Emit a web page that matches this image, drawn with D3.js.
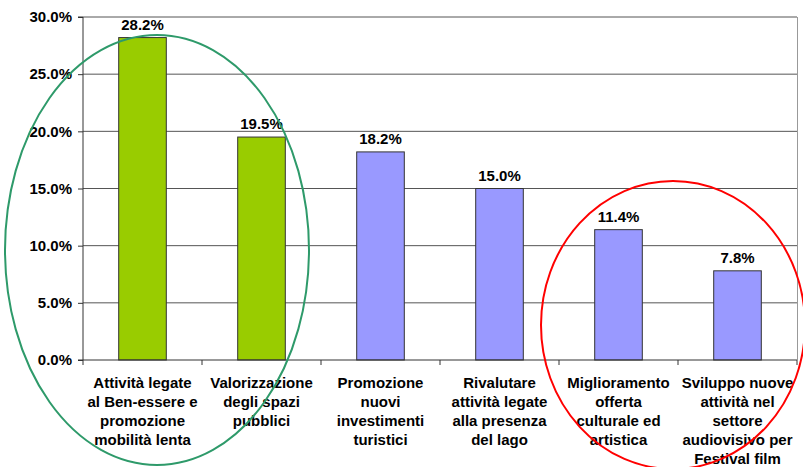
<!DOCTYPE html>
<html>
<head>
<meta charset="utf-8">
<script src="https://cdn.jsdelivr.net/npm/d3@7"></script>
<style>
  body { margin: 0; background: #fff; }
  svg { font-family: "Liberation Sans", Arial, sans-serif; font-weight: bold; }
</style>
</head>
<body>
<div id="chart"></div>
<script>
var categories = [
    ['Attività legate', 'al Ben-essere e', 'promozione', 'mobilità lenta'],
    ['Valorizzazione', 'degli spazi', 'pubblici'],
    ['Promozione', 'nuovi', 'investimenti', 'turistici'],
    ['Rivalutare', 'attività legate', 'alla presenza', 'del lago'],
    ['Miglioramento', 'offerta', 'culturale ed', 'artistica'],
    ['Sviluppo nuove', 'attività nel', 'settore', 'audiovisivo per', 'Festival film']
];
var values = [28.2, 19.5, 18.2, 15.0, 11.4, 7.8];
var highlighted = [true, true, false, false, false, false];
var yTicks = [0, 5, 10, 15, 20, 25, 30];

var width = 803, height = 467;
var margin = { top: 17, right: 6, bottom: 107, left: 83 };
var fontSize = 15;

var svg = d3.select('#chart')
    .append('svg')
    .attr('width', width)
    .attr('height', height);

var x = d3.scaleBand()
    .domain(d3.range(categories.length))
    .range([margin.left, width - margin.right]);

var y = d3.scaleLinear()
    .domain([0, 30])
    .range([height - margin.bottom, margin.top]);

var barW = x.bandwidth() * 0.4;

// gridlines
svg.append('g')
    .selectAll('line')
    .data(yTicks.slice(1))
    .enter()
    .append('line')
    .attr('x1', margin.left)
    .attr('x2', width - margin.right)
    .attr('y1', function(d) { return y(d); })
    .attr('y2', function(d) { return y(d); })
    .attr('stroke', '#555')
    .attr('stroke-width', 1);

// right border of plot area
svg.append('line')
    .attr('x1', width - margin.right + 0.5)
    .attr('x2', width - margin.right + 0.5)
    .attr('y1', margin.top)
    .attr('y2', y(0))
    .attr('stroke', '#999');

// bars
svg.append('g')
    .selectAll('rect')
    .data(values)
    .enter()
    .append('rect')
    .attr('x', function(d, i) { return x(i) + (x.bandwidth() - barW) / 2; })
    .attr('y', function(d) { return y(d); })
    .attr('width', barW)
    .attr('height', function(d) { return y(0) - y(d); })
    .attr('fill', function(d, i) { return highlighted[i] ? '#99cc00' : '#9999ff'; })
    .attr('stroke', '#333')
    .attr('stroke-width', 1);

// value labels
svg.append('g')
    .selectAll('text')
    .data(values)
    .enter()
    .append('text')
    .attr('x', function(d, i) { return x(i) + x.bandwidth() / 2; })
    .attr('y', function(d) { return y(d) - 8; })
    .attr('text-anchor', 'middle')
    .attr('font-size', fontSize)
    .text(function(d) { return d.toFixed(1) + '%'; });

// y axis
var yAxis = d3.axisLeft(y)
    .tickValues(yTicks)
    .tickSize(5)
    .tickFormat(function(d) { return d.toFixed(1) + '%'; });

var gy = svg.append('g')
    .attr('transform', 'translate(' + margin.left + ',0)')
    .call(yAxis);
gy.selectAll('path, line').attr('stroke', '#333');
gy.select('.domain').attr('d', 'M-5,' + y(30) + 'H0V' + y(0));
gy.selectAll('text')
    .attr('font-size', fontSize)
    .attr('font-weight', 'bold')
    .attr('font-family', '"Liberation Sans", Arial, sans-serif')
    .attr('fill', '#000')
    .attr('x', -11);

// x axis line with boundary ticks
var gx = svg.append('g');
gx.append('line')
    .attr('x1', margin.left - 5)
    .attr('x2', width - margin.right)
    .attr('y1', y(0))
    .attr('y2', y(0))
    .attr('stroke', '#333');
gx.selectAll('.bt')
    .data(d3.range(categories.length + 1))
    .enter()
    .append('line')
    .attr('x1', function(d) { return margin.left + d * x.step(); })
    .attr('x2', function(d) { return margin.left + d * x.step(); })
    .attr('y1', y(0))
    .attr('y2', y(0) + 5)
    .attr('stroke', '#333');

// category labels
var labels = gx.selectAll('.cat')
    .data(categories)
    .enter()
    .append('text')
    .attr('text-anchor', 'middle')
    .attr('font-size', fontSize)
    .attr('fill', '#000');
labels.each(function(lines, i) {
    d3.select(this).selectAll('tspan')
        .data(lines)
        .enter()
        .append('tspan')
        .attr('x', x(i) + x.bandwidth() / 2)
        .attr('y', function(d, j) { return y(0) + 28 + j * 19; })
        .text(function(d) { return d; });
});

// highlight ellipses
svg.append('ellipse')
    .attr('cx', 157)
    .attr('cy', 250)
    .attr('rx', 152)
    .attr('ry', 215)
    .attr('fill', 'none')
    .attr('stroke', '#2e9a6a')
    .attr('stroke-width', 2);

svg.append('ellipse')
    .attr('cx', 673)
    .attr('cy', 325)
    .attr('rx', 132)
    .attr('ry', 144)
    .attr('fill', 'none')
    .attr('stroke', '#ff0000')
    .attr('stroke-width', 2);
</script>
</body>
</html>
